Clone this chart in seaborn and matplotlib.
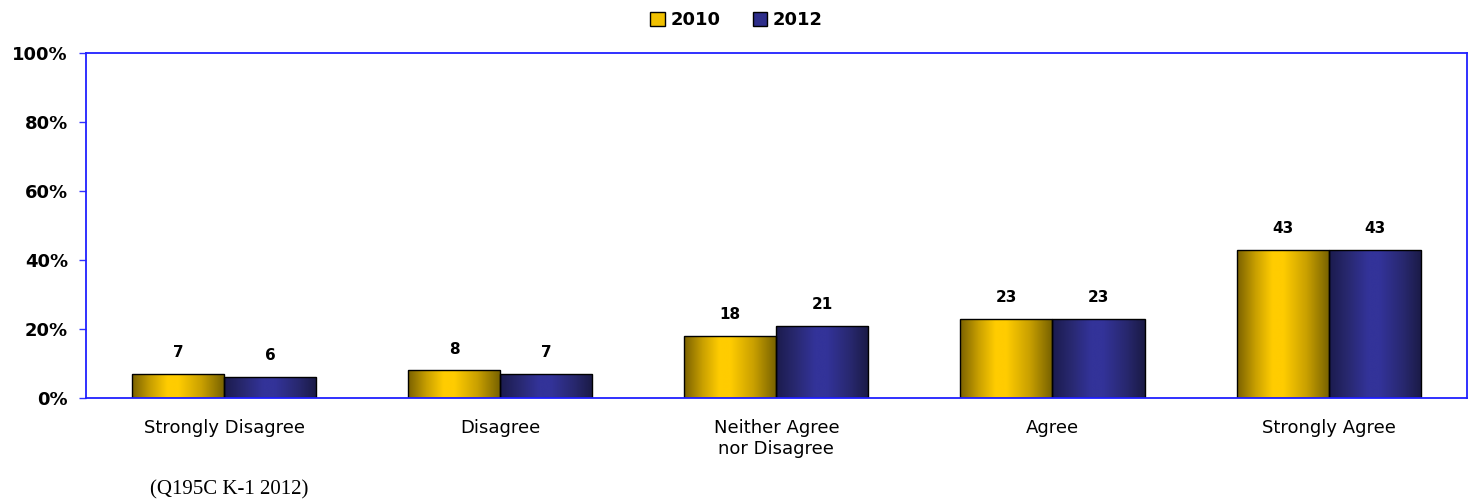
import numpy as np
import pandas as pd
import matplotlib
matplotlib.use("Agg")
import matplotlib.pyplot as plt
from matplotlib.colors import LinearSegmentedColormap
from matplotlib.patches import Patch
import seaborn as sns

categories = ["Strongly Disagree", "Disagree", "Neither Agree\nnor Disagree", "Agree", "Strongly Agree"]
years = ["2010", "2012"]
values_2010 = [7, 8, 18, 23, 43]
values_2012 = [6, 7, 21, 23, 43]
yticks = [0, 20, 40, 60, 80, 100]
note = "(Q195C K-1 2012)"

df = pd.DataFrame({
    "cat": categories * 2,
    "year": [years[0]] * 5 + [years[1]] * 5,
    "pct": values_2010 + values_2012,
})

sns.set_style("white")
plt.rcParams["font.family"] = ["DejaVu Sans"]
plt.rcParams["text.color"] = "black"
plt.rcParams["xtick.labelcolor"] = "black"
plt.rcParams["ytick.labelcolor"] = "black"

gold = ["#7a6100", "#c9a000", "#ffcc00", "#ffcc00", "#c9a000", "#756000"]
navy = ["#1b1b4d", "#28286f", "#333399", "#333399", "#28286f", "#1a1a45"]
cmaps = {
    "2010": LinearSegmentedColormap.from_list("g", list(zip([0, 0.2, 0.38, 0.5, 0.75, 1], gold))),
    "2012": LinearSegmentedColormap.from_list("b", list(zip([0, 0.2, 0.42, 0.55, 0.8, 1], navy))),
}

fig = plt.figure(figsize=(14.73, 5.04), dpi=100)
ax = fig.add_axes([0.0584, 0.2103, 0.9373, 0.6845])
sns.barplot(data=df, x="cat", y="pct", hue="year", palette=["#ffcc00", "#333399"],
            width=0.667, edgecolor="black", linewidth=1, ax=ax, legend=False,
            errorbar=None)

grad = np.linspace(0, 1, 256).reshape(1, -1)
for cont, yr in zip(ax.containers, years):
    for bar in cont:
        x0, y0 = bar.get_x(), bar.get_y()
        w, h = bar.get_width(), bar.get_height()
        im = ax.imshow(grad, cmap=cmaps[yr], extent=[x0, x0 + w, y0, y0 + h],
                       aspect="auto", zorder=bar.get_zorder(), interpolation="bilinear")
        im.set_clip_path(bar)
        bar.set_facecolor("none")
        bar.set_zorder(bar.get_zorder() + 0.1)
    ax.bar_label(cont, fmt="%d", padding=10, fontsize=11, fontweight="bold", color="black")

ax.set_xlim(-0.5, 4.5)
ax.set_ylim(0, 100)
ax.set_yticks(yticks)
ax.set_yticklabels([f"{t}%" for t in yticks], fontsize=13, fontweight="bold")
ax.tick_params(axis="y", length=5, width=1, color="#3333ff", direction="out", pad=8, left=True)
ax.tick_params(axis="x", length=0, labelsize=13, pad=15)
ax.set_xlabel("")
ax.set_ylabel("")
for s in ax.spines.values():
    s.set_visible(True)
    s.set_color("#2020ff")
    s.set_linewidth(1.3)

handles = [Patch(facecolor="#f0c000", edgecolor="black", label=years[0]),
           Patch(facecolor="#2e2e8a", edgecolor="black", label=years[1])]
fig.legend(handles=handles, loc="center", bbox_to_anchor=(0.5, 0.96), ncol=2, frameon=False,
           prop={"size": 13, "weight": "bold"}, handlelength=0.8, handleheight=0.8,
           handletextpad=0.3, columnspacing=1.8)

fig.text(0.102, 0.028, note, fontsize=15, family="Liberation Serif", va="center", ha="left")

fig.savefig("out.png", dpi=100)
